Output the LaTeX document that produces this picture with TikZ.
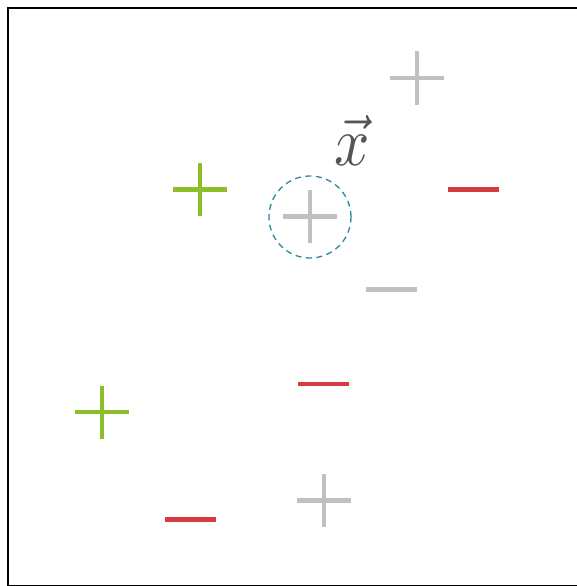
\documentclass[tikz,border=0pt]{standalone}
\usepackage{xcolor}
\usepackage{tikz}
\usepackage{graphicx}
\definecolor{PtGreen}{HTML}{8CBE27}
\definecolor{PtRed}{HTML}{D63B42}
\definecolor{PtGray}{HTML}{C0C0C0}
\definecolor{PtTeal}{HTML}{2B8A9C}
\definecolor{PtText}{HTML}{555555}
\tikzset{
  sign/.style={line width=4.5pt},
  query/.style={PtTeal,line width=1.3pt,dash pattern=on 6pt off 4.5pt}
}
\newcommand{\plusmark}[3]{\draw[sign,#1] (#2-27,#3) -- (#2+27,#3) (#2,#3-26.5) -- (#2,#3+26.5);}
\newcommand{\minusmark}[3]{\draw[sign,#1] (#2-25.5,#3) -- (#2+25.5,#3);}
\begin{document}
\begin{tikzpicture}[x=1pt,y=-1pt]
\path[use as bounding box] (0,0) rectangle (577,586);
\draw[line width=2pt] (8,8) rectangle (585,585.9);
% positive samples
\plusmark{PtGray}{417}{78}
\plusmark{PtGreen}{200}{189.5}
\plusmark{PtGreen}{102}{412}
\plusmark{PtGray}{324}{500.5}
% negative samples
\minusmark{PtRed}{473}{189.5}
\minusmark{PtGray}{391.5}{289.5}
\minusmark{PtRed}{323.5}{384}
\minusmark{PtRed}{190}{519.5}
% query point
\plusmark{PtGray}{310}{216.5}
\node[query,circle,draw,minimum size=82pt] (q) at (310,217) {};
\node[PtText,inner sep=0pt] (xlabel) at (352,140) {\scalebox{6.2}[7]{$\vec{x}$}};
\end{tikzpicture}
\end{document}
